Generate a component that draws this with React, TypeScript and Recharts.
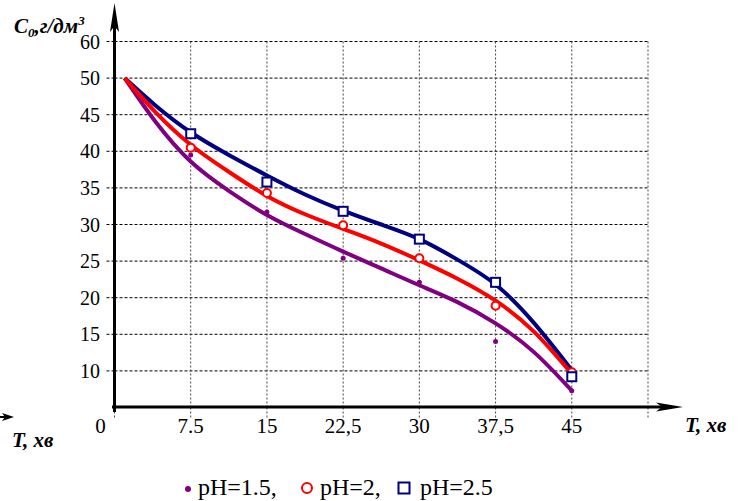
import {
  ComposedChart, Line, Scatter, XAxis, YAxis, CartesianGrid,
} from 'recharts';

// fitted trend curves
const CURVE_T = [1, 4, 7.5, 11.25, 15, 18.75, 22.5, 26.25, 30, 33.75, 37.5, 41.25, 45];
const CURVE_PH15 = [50, 44.1, 38.6, 34.6, 31.3, 28.7, 26.3, 24.0, 21.7, 19.4, 16.5, 12.6, 7.3];
const CURVE_PH2 = [50, 45.4, 40.9, 37.2, 33.9, 31.4, 29.4, 27.4, 25.1, 22.6, 19.6, 15.4, 9.6];
const CURVE_PH25 = [50, 46.3, 42.6, 39.5, 36.7, 34.1, 31.9, 30.0, 28.0, 25.2, 21.8, 16.6, 10.1];

// measured points
const POINT_T = [7.5, 15, 22.5, 30, 37.5, 45];
const POINTS_PH15 = [39.5, 31.7, 25.4, 22.1, 14.0, 7.3];
const POINTS_PH2 = [40.5, 34.3, 29.9, 25.4, 18.9, 9.8];
const POINTS_PH25 = [42.4, 35.8, 31.8, 28.0, 22.1, 9.2];

const X_TICKS = [0, 7.5, 15, 22.5, 30, 37.5, 45, 52.5];
const X_LABELS = ['0', '7.5', '15', '22,5', '30', '37,5', '45', ''];
const Y_TICKS = [10, 15, 20, 25, 30, 35, 40, 45, 50, 55];
const Y_LABELS = ['10', '15', '20', '25', '30', '35', '40', '45', '50', '60'];

const PURPLE = '#800080';
const RED = '#ff0000';
const NAVY = '#000080';
const FONT = 'Liberation Serif';

const toRows = (xs: number[], ys: number[]) => xs.map((t, i) => ({ t, c: ys[i] }));

const XTick = (props: any) => {
  const { x, y, payload } = props;
  const i = X_TICKS.indexOf(payload.value);
  const label = X_LABELS[i] ?? '';
  if (!label) return null;
  const dx = payload.value === 0 ? -14 : 0;
  return (
    <text x={x + dx} y={y + 15} textAnchor="middle" fontSize={21} fontFamily={FONT} fill="#000">
      {label}
    </text>
  );
};

const YTick = (props: any) => {
  const { y, payload } = props;
  const i = Y_TICKS.indexOf(payload.value);
  return (
    <text x={100} y={y + 7} textAnchor="end" fontSize={20} fontFamily={FONT} fill="#000">
      {Y_LABELS[i]}
    </text>
  );
};

const DotShape = (p: any) => <circle cx={p.cx} cy={p.cy} r={2.5} fill={PURPLE} />;
const CircleShape = (p: any) => (
  <circle cx={p.cx} cy={p.cy} r={4} fill="#fff" stroke={RED} strokeWidth={2} />
);
const SquareShape = (p: any) => (
  <rect x={p.cx - 4.5} y={p.cy - 4.5} width={9} height={9} fill="#fff" stroke={NAVY} strokeWidth={2} />
);

export default function App() {
  return (
    <div style={{ position: 'absolute', left: 0, top: 0, width: 744, height: 501, background: '#fff' }}>
      <ComposedChart
        width={744}
        height={501}
        margin={{ top: 41.5, right: 96, bottom: 63.5, left: 54.5 }}
      >
        <CartesianGrid horizontal={true} vertical={false} stroke="#000" strokeDasharray="3 2" strokeWidth={1} />
        <CartesianGrid horizontal={false} vertical={true} stroke="#444" strokeDasharray="2 2" strokeWidth={1} />
        <XAxis
          type="number"
          dataKey="t"
          domain={[0, 52.5]}
          ticks={X_TICKS}
          interval={0}
          allowDataOverflow
          axisLine={false}
          tickLine={{ stroke: '#444', strokeDasharray: '2 2' }}
          tickSize={10}
          tickMargin={0}
          height={30}
          tick={<XTick />}
        />
        <YAxis
          type="number"
          domain={[5, 55]}
          ticks={Y_TICKS}
          interval={0}
          allowDataOverflow
          axisLine={false}
          tickLine={{ stroke: '#000', strokeDasharray: '3 2' }}
          tickSize={8}
          width={60}
          tick={<YTick />}
        />
        <Line data={toRows(CURVE_T, CURVE_PH15)} dataKey="c" type="natural" stroke={PURPLE} strokeWidth={4} dot={false} isAnimationActive={false} />
        <Line data={toRows(CURVE_T, CURVE_PH25)} dataKey="c" type="natural" stroke={NAVY} strokeWidth={4} dot={false} isAnimationActive={false} />
        <Line data={toRows(CURVE_T, CURVE_PH2)} dataKey="c" type="natural" stroke={RED} strokeWidth={4} dot={false} isAnimationActive={false} />
        <Scatter data={toRows(POINT_T, POINTS_PH15)} dataKey="c" shape={<DotShape />} isAnimationActive={false} />
        <Scatter data={toRows(POINT_T, POINTS_PH2)} dataKey="c" shape={<CircleShape />} isAnimationActive={false} />
        <Scatter data={toRows(POINT_T, POINTS_PH25)} dataKey="c" shape={<SquareShape />} isAnimationActive={false} />
      </ComposedChart>

      <svg
        width={744}
        height={501}
        style={{ position: 'absolute', left: 0, top: 0, pointerEvents: 'none' }}
      >
        {/* axes with arrows */}
        <line x1={114.5} y1={412} x2={114.5} y2={14} stroke="#000" strokeWidth={3} />
        <polygon points="114.5,3 110,32 114.5,26 119,32" fill="#000" />
        <line x1={112} y1={407} x2={672} y2={407} stroke="#000" strokeWidth={3} />
        <polygon points="683,407 656,402.5 662,407 656,411.5" fill="#000" />
        <line x1={0} y1={417} x2={8} y2={417} stroke="#000" strokeWidth={2} />
        <polygon points="14,417 2,413 5,417 2,421" fill="#000" />

        <text x={14} y={33} fontSize={21} fontFamily={FONT} fontWeight="bold" fontStyle="italic">
          C<tspan fontSize={13} dy={4}>0</tspan>
          <tspan dy={-4}>,г/дм</tspan>
          <tspan fontSize={13} dy={-8}>3</tspan>
        </text>
        <text x={685} y={432} fontSize={21} fontFamily={FONT} fontWeight="bold" fontStyle="italic">T, хв</text>
        <text x={12} y={447} fontSize={21} fontFamily={FONT} fontWeight="bold" fontStyle="italic">T, хв</text>

        {/* legend */}
        <circle cx={188} cy={489} r={3} fill={PURPLE} />
        <text x={198} y={495} fontSize={24} fontFamily={FONT}>pH=1.5,</text>
        <circle cx={307} cy={488} r={5} fill="#fff" stroke={RED} strokeWidth={2} />
        <text x={320} y={495} fontSize={24} fontFamily={FONT}>pH=2,</text>
        <rect x={398.5} y={482.5} width={11} height={11} fill="#fff" stroke={NAVY} strokeWidth={2} />
        <text x={420} y={495} fontSize={24} fontFamily={FONT}>pH=2.5</text>
      </svg>
    </div>
  );
}
